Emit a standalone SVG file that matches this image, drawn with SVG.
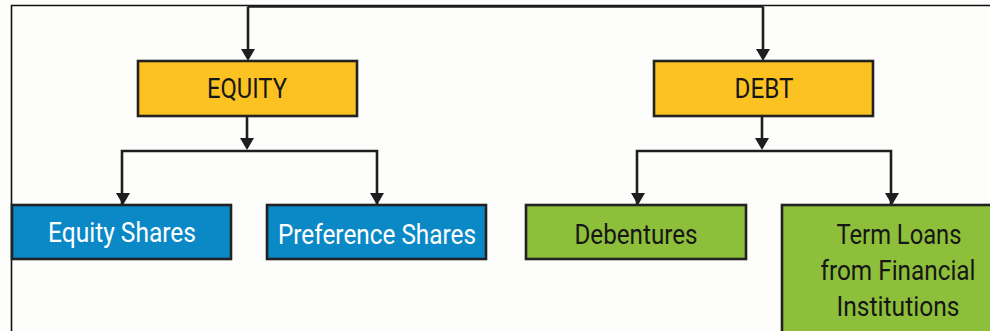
<svg xmlns="http://www.w3.org/2000/svg" width="990" height="331" viewBox="0 0 990 331">
<style>
.frame{fill:none;stroke:#111;stroke-width:1.6}
.conn{fill:none;stroke:#1e1e1e;stroke-width:2.6}
.head{fill:#1e1e1e}
.box{stroke:#222;stroke-width:2.6}
.y{fill:#FBC222}
.b{fill:#0B89C6}
.g{fill:#8DBF3A}
.t{font-family:Roboto,"Liberation Sans",sans-serif;font-size:28px;font-weight:400;text-anchor:middle}
.dk{fill:#161616}
.wh{fill:#ffffff}
</style>
<rect x="0" y="0" width="990" height="331" fill="#FDFDFB"/>
<path class="frame" d="M11.5,331 V5.5 H990"/>
<g id="connectors">
<path class="conn" d="M248,6.5 H763"/>
<path class="conn" d="M248,6.5 V50"/>
<path class="head" d="M241,49 H255 L248,61 Z"/>
<path class="conn" d="M763,6.5 V50"/>
<path class="head" d="M756,49 H770 L763,61 Z"/>
<path class="conn" d="M247,116 V140"/>
<path class="head" d="M240,138 H254 L247,150 Z"/>
<path class="conn" d="M122,205 V151 H377 V205"/>
<path class="conn" d="M762,116 V140"/>
<path class="head" d="M755,138 H769 L762,150 Z"/>
<path class="conn" d="M637,205 V151 H891 V205"/>
<path class="head" d="M116,193 H130 L123,205 Z"/>
<path class="head" d="M370,193 H384 L377,205 Z"/>
<path class="head" d="M631,193 H645 L638,205 Z"/>
<path class="head" d="M885,193 H899 L892,205 Z"/>
</g>
<g id="equity">
<rect class="box y" x="138" y="61" width="219" height="55"/>
<text class="t dk" x="247" y="98" textLength="80" lengthAdjust="spacingAndGlyphs">EQUITY</text>
</g>
<g id="debt">
<rect class="box y" x="654" y="61" width="219" height="55"/>
<text class="t dk" x="764" y="98" textLength="59" lengthAdjust="spacingAndGlyphs">DEBT</text>
</g>
<g id="equity-shares">
<rect class="box b" x="12" y="205" width="219" height="54"/>
<text class="t wh" x="122" y="242" textLength="148" lengthAdjust="spacingAndGlyphs">Equity Shares</text>
</g>
<g id="preference-shares">
<rect class="box b" x="267" y="205" width="219" height="54"/>
<text class="t wh" x="377" y="244" textLength="198" lengthAdjust="spacingAndGlyphs">Preference Shares</text>
</g>
<g id="debentures">
<rect class="box g" x="526" y="205" width="220" height="54"/>
<text class="t dk" x="636" y="244" textLength="123" lengthAdjust="spacingAndGlyphs">Debentures</text>
</g>
<g id="term-loans">
<rect class="box g" x="782" y="205" width="240" height="140"/>
<text class="t dk" x="899" y="244" textLength="125" lengthAdjust="spacingAndGlyphs">Term Loans</text>
<text class="t dk" x="898" y="280" textLength="155" lengthAdjust="spacingAndGlyphs">from Financial</text>
<text class="t dk" x="898" y="316" textLength="123" lengthAdjust="spacingAndGlyphs">Institutions</text>
</g>
</svg>
